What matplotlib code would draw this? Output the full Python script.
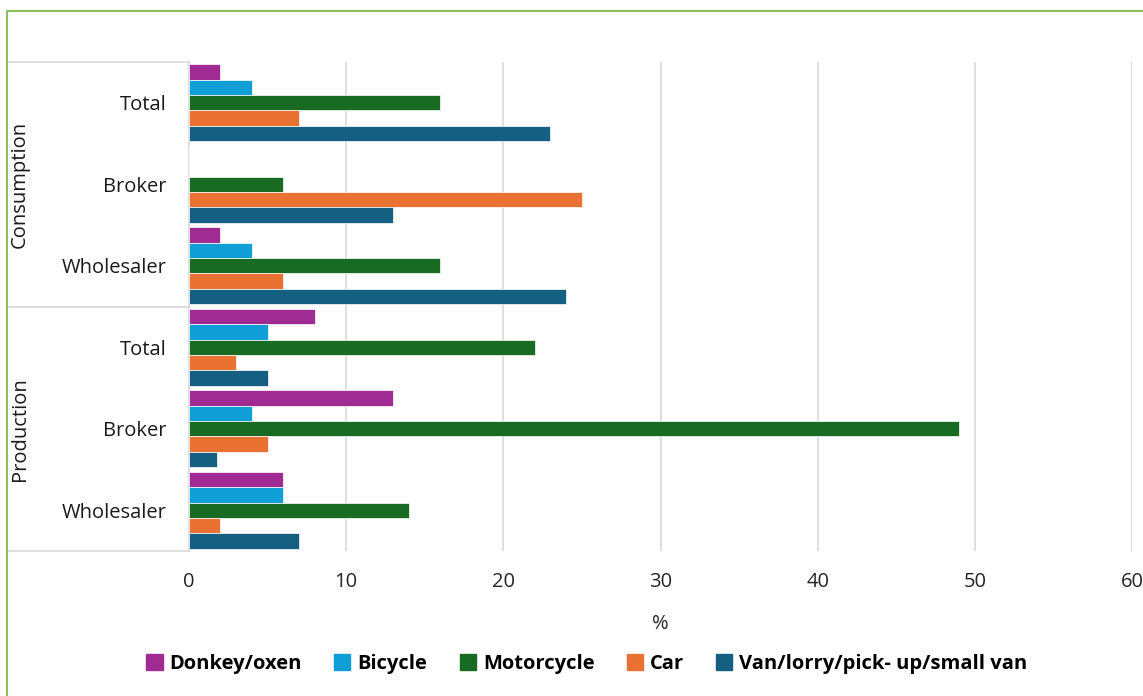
import matplotlib.pyplot as plt
import matplotlib.transforms as mtransforms
from matplotlib.patches import Rectangle, Patch
import numpy as np

plt.rcParams['font.family'] = ['Open Sans', 'DejaVu Sans']

groups = ["Consumption", "Production"]
rows = ["Total", "Broker", "Wholesaler", "Total", "Broker", "Wholesaler"]
series = ["Donkey/oxen", "Bicycle", "Motorcycle", "Car", "Van/lorry/pick- up/small van"]
colors = ["#A02B93", "#0F9ED5", "#196B24", "#E97132", "#156082"]

# values in %, rows top to bottom
donkey = [2, 0, 2, 8, 13, 6]
bicycle = [4, 0, 4, 5, 4, 6]
motorcycle = [16, 6, 16, 22, 49, 14]
car = [7, 25, 6, 3, 5, 2]
van = [23, 13, 24, 5, 1.8, 7]
values = [donkey, bicycle, motorcycle, car, van]

fig = plt.figure(figsize=(11.43, 6.96), dpi=100)
ax = fig.add_axes([189/1143, 1 - 551/696, 943/1143, 489/696])

ypos = np.arange(len(rows))
h = 0.19
for i, (name, vals, col) in enumerate(zip(series, values, colors)):
    ax.barh(ypos + (i - 2) * h, vals, height=h, color=col, edgecolor="white",
            linewidth=0.5, label=name, zorder=3)

ax.set_ylim(len(rows) - 0.5, -0.5)
ax.set_xlim(0, 60)
ax.set_xticks(range(0, 61, 10))
ax.set_yticks(ypos)
ax.set_yticklabels(rows, fontsize=14.5)
ax.tick_params(axis="x", labelsize=14.5, length=0, pad=15, colors="#262626")
ax.tick_params(axis="y", length=0, pad=16, colors="#1a1a1a")
ax.grid(axis="x", color="#D9D9D9", linewidth=1.2, zorder=0)
for s in ["top", "right", "bottom"]:
    ax.spines[s].set_visible(False)
ax.spines["left"].set_color("#D9D9D9")
ax.spines["left"].set_linewidth(1.2)
ax.set_xlabel("%", fontsize=14.5, color="#262626", labelpad=16)

# multi-level category axis
trans = mtransforms.blended_transform_factory(ax.transAxes, ax.transData)
x0 = (8 - 189) / 943
for yl in [-0.5, 2.5, 5.5]:
    ax.plot([x0, 0], [yl, yl], color="#D9D9D9", linewidth=1.2, transform=trans,
            clip_on=False)
for k, g in enumerate(groups):
    ax.text((20 - 189) / 943, 1 + 3 * k, g, rotation=90, ha="center", va="center",
            fontsize=14.5, color="#1a1a1a", transform=trans)

# outer green frame
fig.patches.append(Rectangle((7/1143, -0.05), 1.1, 1 - 11/696 + 0.05, fill=False,
                             edgecolor="#8DBF5A", linewidth=1.5,
                             transform=fig.transFigure))

handles = [Patch(color=c) for c in colors]
leg = fig.legend(handles, series, loc="center", bbox_to_anchor=(587/1143, 1 - 664/696),
                 ncol=5, frameon=False, handlelength=0.8, handleheight=0.8,
                 handletextpad=0.35, columnspacing=1.6,
                 prop={"weight": "bold", "size": 14.5})

fig.savefig("out.png", dpi=100)
